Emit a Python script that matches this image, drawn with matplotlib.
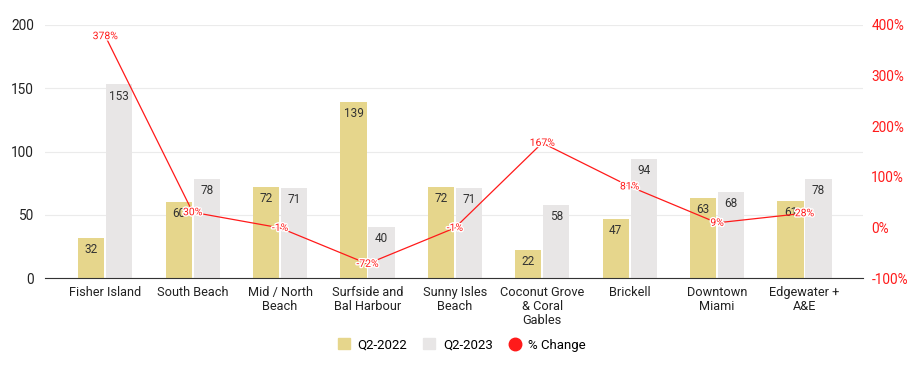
import matplotlib.pyplot as plt
import matplotlib.patheffects as pe
from matplotlib.lines import Line2D
from matplotlib.patches import Patch
import numpy as np

plt.rcParams['font.family'] = ['Roboto', 'DejaVu Sans']

# данные
areas = ['Fisher Island', 'South Beach', 'Mid / North\nBeach', 'Surfside and\nBal Harbour',
         'Sunny Isles\nBeach', 'Coconut Grove\n& Coral\nGables', 'Brickell', 'Downtown\nMiami',
         'Edgewater +\nA&E']
q2_2022 = [32, 60, 72, 139, 72, 22, 47, 63, 61]
q2_2023 = [153, 78, 71, 40, 71, 58, 94, 68, 78]
pct_change = [378, 30, -1, -72, -1, 167, 81, 9, 28]

c22 = '#e6d68c'
c23 = '#e8e6e6'
red = '#ff1a1a'

fig = plt.figure(figsize=(9.24, 3.71), dpi=100)
ax = fig.add_axes([45 / 924, 1 - 278 / 371, (863 - 45) / 924, (278 - 25) / 371])
x = np.arange(len(areas))
w = 0.3

b1 = ax.bar(x - 0.16, q2_2022, w, color=c22, zorder=2)
b2 = ax.bar(x + 0.16, q2_2023, w, color=c23, zorder=2)
for bars in (b1, b2):
    for r in bars:
        ax.text(r.get_x() + r.get_width() / 2, r.get_height() - 4, str(int(r.get_height())),
                ha='center', va='top', fontsize=8.5, color='#333333', zorder=3)

ax.set_xlim(-0.69, 8.67)
ax.set_ylim(0, 200)
ax.set_yticks([0, 50, 100, 150, 200])
ax.set_xticks(x)
ax.set_xticklabels(areas, fontsize=9.2, color='#222222', linespacing=1.1)
ax.tick_params(axis='y', length=0, labelsize=9.8, colors='#222222', pad=8)
ax.tick_params(axis='x', length=0, pad=6)
ax.grid(axis='y', color='#ebebeb', lw=0.8, zorder=0)
for s in ['top', 'right', 'left']:
    ax.spines[s].set_visible(False)
ax.spines['bottom'].set_color('#333333')
ax.spines['bottom'].set_zorder(4)

ax2 = ax.twinx()
ax2.set_ylim(-100, 400)
ax2.set_yticks([-100, 0, 100, 200, 300, 400])
ax2.set_yticklabels([f'{v}%' for v in [-100, 0, 100, 200, 300, 400]])
ax2.tick_params(axis='y', length=0, labelsize=9.8, colors=red, pad=6)
for s in ax2.spines.values():
    s.set_visible(False)
ax2.plot(x, pct_change, color=red, lw=0.9, zorder=5)
for xi, v in zip(x, pct_change):
    ax2.text(xi, v, f'{v}%', ha='center', va='center', fontsize=7.5, color=red, zorder=6,
             path_effects=[pe.withStroke(linewidth=2, foreground='white')])

handles = [Patch(color=c22, label='Q2-2022'), Patch(color=c23, label='Q2-2023'),
           Line2D([], [], marker='o', ls='', color=red, markersize=9, label='% Change')]
fig.legend(handles=handles, loc='center', bbox_to_anchor=(0.5, 1 - 345 / 371), ncol=3,
           frameon=False, fontsize=9.5, handlelength=0.9, handleheight=0.9, columnspacing=1.2,
           handletextpad=0.6)

plt.savefig('out.png', dpi=100)
